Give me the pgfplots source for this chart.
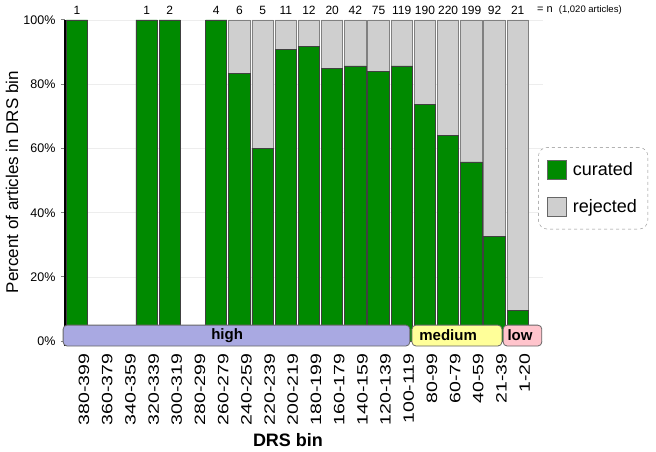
\documentclass[border=0pt]{standalone}
\usepackage{fontspec}
\setmainfont{Liberation Sans}
\newfontfamily\widefont{Liberation Sans}[FakeStretch=1.3]
\usepackage{pgfplots}
\pgfplotsset{compat=1.18}
\usepackage{pgfplotstable}
\definecolor{curgreen}{HTML}{008A00}
\definecolor{rejgray}{HTML}{CFCFCF}
\definecolor{bandhigh}{HTML}{A9A9E2}
\definecolor{bandmed}{HTML}{FFFF99}
\definecolor{bandlow}{HTML}{FFC4CC}

% bins indexed 0 (380-399) .. 19 (1-20); empty bins left out
\pgfplotstableread{
x  cur   tot  n
0  100   100  1
3  100   100  1
4  100   100  2
6  100   100  4
7  83.3  100  6
8  60    100  5
9  90.9  100  11
10 91.7  100  12
11 85    100  20
12 85.7  100  42
13 84    100  75
14 85.7  100  119
15 73.7  100  190
16 64.1  100  220
17 55.8  100  199
18 32.6  100  92
19 9.5   100  21
}\drs

\begin{document}
\begin{tikzpicture}
\useasboundingbox (-65pt,-106pt) rectangle (591pt,346pt);
\begin{axis}[
  scale only axis, width=478pt, height=326pt,
  xmin=-0.52, xmax=20.09, ymin=-1.5, ymax=100,
  clip=false,
  axis lines=left, axis line style={-, line width=1.2pt},
  x axis line style={draw=none},
  xtick={0,...,19},
  xticklabels={380-399,360-379,340-359,320-339,300-319,280-299,260-279,240-259,
    220-239,200-219,180-199,160-179,140-159,120-139,100-119,80-99,60-79,40-59,21-39,1-20},
  xtick style={draw=none},
  xticklabel style={rotate=90, anchor=east, yshift=-7pt,
    font=\widefont\fontsize{15}{18}\selectfont},
  ytick={0,20,...,100},
  yticklabels={0\%,20\%,40\%,60\%,80\%,100\%},
  ytick style={line width=1pt},
  tick align=outside, major tick length=4pt,
  yticklabel style={font=\fontsize{12.5}{15}\selectfont, xshift=-2pt},
  ymajorgrids, grid style={gray!14, line width=0.6pt},
  legend style={at={(rel axis cs:0.99,0.61)}, anchor=north west,
    draw=gray!90, dashed, rounded corners=9pt,
    font=\fontsize{18}{22}\selectfont,
    inner xsep=9pt, inner ysep=13pt, row sep=17pt,
    /tikz/every odd column/.append style={column sep=4pt}},
  legend cell align=left,
]
\addplot[ybar, bar width=0.92, bar shift=0pt, fill=rejgray, draw=black!50,
  line width=0.8pt, forget plot] table[x=x, y=tot] {\drs};
\addplot[ybar, bar width=0.92, bar shift=0pt, fill=curgreen, draw=black!75,
  line width=0.8pt, forget plot] table[x=x, y=cur] {\drs};
\addplot[draw=none, mark=none, forget plot, nodes near coords,
  point meta=explicit symbolic,
  nodes near coords style={anchor=south, yshift=1.5pt, font=\fontsize{12}{14}\selectfont}]
  table[x=x, y=tot, meta=n] {\drs};

\addlegendimage{legend image code/.code={\draw[solid, sharp corners, fill=curgreen, draw=black!60] (0pt,-9.5pt) rectangle (19pt,9.5pt);}}
\addlegendentry{curated}
\addlegendimage{legend image code/.code={\draw[solid, sharp corners, fill=rejgray, draw=black!60] (0pt,-9.5pt) rectangle (19pt,9.5pt);}}
\addlegendentry{rejected}

% DRS group bands
\draw[fill=bandhigh, draw=black!60, line width=0.8pt, rounded corners=4pt]
  (axis cs:-0.6,-1.5) rectangle (axis cs:14.35,5);
\draw[fill=bandmed, draw=black!60, line width=0.8pt, rounded corners=4pt]
  (axis cs:14.44,-1.5) rectangle (axis cs:18.32,5);
\draw[fill=bandlow, draw=black!60, line width=0.8pt, rounded corners=4pt]
  (axis cs:18.37,-1.5) rectangle (axis cs:20.04,5);
\node[font=\bfseries\fontsize{15}{18}\selectfont] at (axis cs:6.47,1.75) {high};
\node[font=\bfseries\fontsize{15}{18}\selectfont] at (axis cs:16.0,1.75) {medium};
\node[font=\bfseries\fontsize{15}{18}\selectfont] at (axis cs:19.1,1.75) {low};

\node[anchor=west, inner sep=0pt] at (axis cs:19.83,103.1)
  {\fontsize{11}{13}\selectfont = n\ \ \fontsize{9.5}{12}\selectfont(1,020 articles)};
\end{axis}
\node[rotate=90, font=\fontsize{17}{20}\selectfont] at (-53pt,164pt) {Percent of articles in DRS bin};
\node[font=\bfseries\fontsize{18}{22}\selectfont] at (223pt,-94pt) {DRS bin};
\end{tikzpicture}
\end{document}
